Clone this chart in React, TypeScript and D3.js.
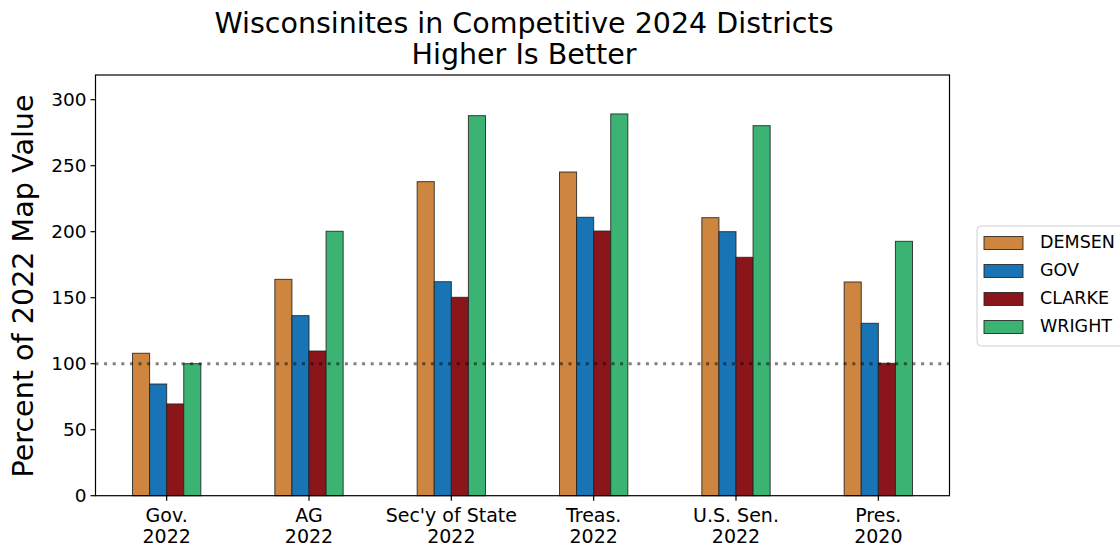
import React from "react";
import * as d3 from "d3";

const categories: string[][] = [
  ["Gov.", "2022"],
  ["AG", "2022"],
  ["Sec'y of State", "2022"],
  ["Treas.", "2022"],
  ["U.S. Sen.", "2022"],
  ["Pres.", "2020"],
];
const seriesNames = ["DEMSEN", "GOV", "CLARKE", "WRIGHT"];
const demsen = [107.9, 163.9, 237.9, 245.2, 210.6, 161.9];
const gov = [84.6, 136.4, 162.1, 210.9, 200.0, 130.6];
const clarke = [69.5, 109.6, 150.3, 200.5, 180.6, 100.3];
const wright = [100.0, 200.3, 287.9, 289.2, 280.3, 192.7];
const seriesValues = [demsen, gov, clarke, wright];
const yTicks = [0, 50, 100, 150, 200, 250, 300];
const refValue = 100;
const colors = ["#cd853f", "#1874b4", "#8a161b", "#3bb372"];
const titleLines = ["Wisconsinites in Competitive 2024 Districts", "Higher Is Better"];
const yLabel = "Percent of 2022 Map Value";

const W = 1120;
const H = 545;
const L = 95.5;
const R = 949.5;
const T = 75;
const B = 495.7;
const FONT = "'DejaVu Sans', sans-serif";

export default function App() {
  const x = d3.scaleLinear().domain([-0.5, categories.length - 0.5]).range([L, R]);
  const y = d3.scaleLinear().domain([0, 318.7]).range([B, T]);
  const groupW = 0.48;
  const barW = groupW / seriesNames.length;

  return (
    <div style={{ position: "absolute", left: 0, top: 0 }}>
      <svg width={W} height={H} style={{ display: "block", background: "#fff" }} fontFamily={FONT}>
        {titleLines.map((t, i) => (
          <text key={i} x={524} y={33 + i * 31} textAnchor="middle" fontSize={28.5} fill="#000">
            {t}
          </text>
        ))}
        {seriesValues.map((vals, s) =>
          vals.map((v, i) => {
            const x0 = x(i - groupW / 2 + s * barW);
            const x1 = x(i - groupW / 2 + (s + 1) * barW);
            return (
              <rect
                key={`${s}-${i}`}
                x={x0}
                y={y(v)}
                width={x1 - x0}
                height={y(0) - y(v)}
                fill={colors[s]}
                stroke="#222"
                strokeOpacity={0.85}
                strokeWidth={1}
              />
            );
          })
        )}
        <line
          x1={L}
          x2={R}
          y1={y(refValue)}
          y2={y(refValue)}
          stroke="#000"
          strokeOpacity={0.5}
          strokeWidth={3}
          strokeDasharray="3,5.6"
        />
        <rect x={L} y={T} width={R - L} height={B - T} fill="none" stroke="#000" strokeWidth={1.2} />
        {yTicks.map((t) => (
          <g key={t}>
            <line x1={L - 5} x2={L} y1={y(t)} y2={y(t)} stroke="#000" strokeWidth={1.2} />
            <text x={L - 9} y={y(t)} dy="0.36em" textAnchor="end" fontSize={18.5} fill="#000">
              {t}
            </text>
          </g>
        ))}
        {categories.map((c, i) => (
          <g key={i}>
            <line x1={x(i)} x2={x(i)} y1={B} y2={B + 5} stroke="#000" strokeWidth={1.2} />
            {c.map((ln, j) => (
              <text key={j} x={x(i)} y={522 + j * 20.5} textAnchor="middle" fontSize={19} fill="#000">
                {ln}
              </text>
            ))}
          </g>
        ))}
        <text
          transform={`translate(33, 286) rotate(-90)`}
          textAnchor="middle"
          fontSize={28.6}
          fill="#000"
        >
          {yLabel}
        </text>
        <rect x={977} y={226} width={170} height={120} rx={4} fill="#fff" stroke="#d0d0d0" strokeWidth={1} />
        {seriesNames.map((n, s) => (
          <g key={n}>
            <rect x={984} y={236.5 + s * 28} width={39} height={13} fill={colors[s]} stroke="#222" strokeOpacity={0.85} strokeWidth={1} />
            <text x={1040} y={248 + s * 28} fontSize={17.5} fill="#000">
              {n}
            </text>
          </g>
        ))}
      </svg>
    </div>
  );
}
